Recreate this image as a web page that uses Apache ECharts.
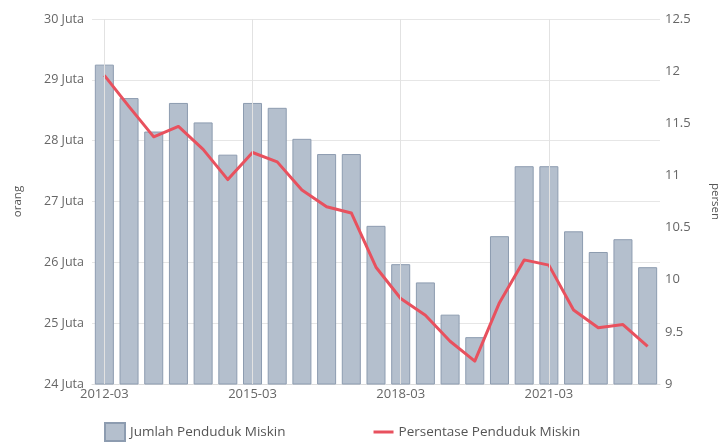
<!DOCTYPE html>
<html>
<head>
<meta charset="utf-8">
<script src="https://cdn.jsdelivr.net/npm/echarts@6/dist/echarts.min.js"></script>
<style>html,body{margin:0;padding:0;background:#fff}#c{width:718px;height:448px}</style>
</head>
<body>
<div id="c"></div>
<script>
const categories = ['2012-03','2012-09','2013-03','2013-09','2014-03','2014-09','2015-03','2015-09','2016-03','2016-09','2017-03','2017-09','2018-03','2018-09','2019-03','2019-09','2020-03','2020-09','2021-03','2021-09','2022-03','2022-09','2023-03'];
const jumlah = [29.25, 28.7, 28.15, 28.62, 28.3, 27.77, 28.62, 28.54, 28.03, 27.78, 27.78, 26.6, 25.97, 25.67, 25.14, 24.77, 26.43, 27.58, 27.58, 26.51, 26.17, 26.38, 25.92];
const persen = [11.96, 11.66, 11.37, 11.47, 11.25, 10.96, 11.22, 11.13, 10.86, 10.70, 10.64, 10.12, 9.82, 9.66, 9.41, 9.22, 9.78, 10.19, 10.14, 9.71, 9.54, 9.57, 9.36];
const shownLabels = ['2012-03','2015-03','2018-03','2021-03'];

const chart = echarts.init(document.getElementById('c'));
const font = '"Open Sans", "Noto Sans", sans-serif';
chart.setOption({
  animation: false,
  textStyle: { fontFamily: font },
  grid: { left: 92, right: 58, top: 19, bottom: 64, outerBoundsMode: 'none', containLabel: false },
  legend: {
    bottom: 1, left: 99, itemGap: 88, itemWidth: 20, itemHeight: 18,
    textStyle: { color: '#555', fontSize: 13.5, fontFamily: font },
    data: [
      { name: 'Jumlah Penduduk Miskin', icon: 'rect' },
      { name: 'Persentase Penduduk Miskin', icon: 'path://M0,7.5 L20,7.5 L20,10.5 L0,10.5 Z' }
    ]
  },
  xAxis: {
    type: 'category', data: categories, boundaryGap: true,
    axisLine: { show: true, lineStyle: { color: '#ddd' } },
    axisTick: { show: false },
    axisLabel: {
      color: '#666', fontSize: 13, margin: 4,
      interval: (i, v) => shownLabels.indexOf(v) >= 0
    },
    splitLine: { show: false }
  },
  yAxis: [
    {
      type: 'value', min: 24, max: 30, interval: 1,
      name: 'orang', nameLocation: 'middle', nameGap: 68, nameRotate: 90,
      nameTextStyle: { color: '#555', fontSize: 11.5 },
      axisLine: { show: false }, axisTick: { show: false },
      axisLabel: { color: '#666', fontSize: 12.5, margin: 8, formatter: v => v + ' Juta' },
      splitLine: { show: true, lineStyle: { color: '#e6e6e6' } }
    },
    {
      type: 'value', min: 9, max: 12.5, interval: 0.5,
      name: 'persen', nameLocation: 'middle', nameGap: 49, nameRotate: -90,
      nameTextStyle: { color: '#555', fontSize: 11.5 },
      axisLine: { show: false }, axisTick: { show: false },
      axisLabel: { color: '#666', fontSize: 13, margin: 5 },
      splitLine: { show: false }
    }
  ],
  series: [
    {
      name: 'Jumlah Penduduk Miskin', type: 'bar', yAxisIndex: 0,
      data: jumlah, barWidth: '77%',
      itemStyle: { color: '#b4bfcd', borderColor: '#8d9cb0', borderWidth: 1 },
      markLine: {
        silent: true, symbol: 'none', label: { show: false },
        lineStyle: { color: '#e2e2e2', type: 'solid', width: 1 },
        data: shownLabels.map(l => ({ xAxis: l }))
      },
      z: 2
    },
    {
      name: 'Persentase Penduduk Miskin', type: 'line', yAxisIndex: 1,
      data: persen, showSymbol: false, symbol: 'none',
      lineStyle: { color: '#e8515e', width: 3, join: 'round' },
      itemStyle: { color: '#e8515e' },
      z: 3
    }
  ]
});
</script>
</body>
</html>
